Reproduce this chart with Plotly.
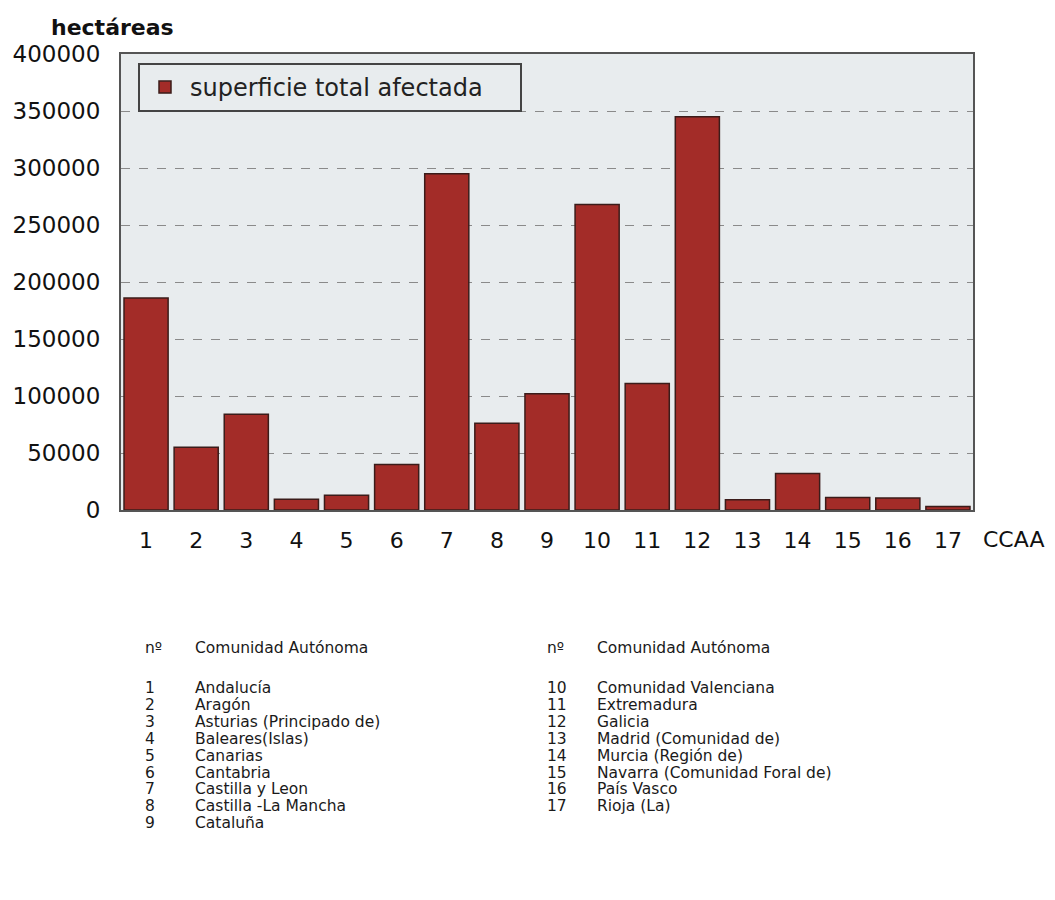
import plotly.graph_objects as go

# ---- data ----
ccaa = [str(i) for i in range(1, 18)]
superficie = [186000, 55000, 84000, 9500, 13000, 40000, 295000, 76000, 102000,
              268000, 111000, 345000, 9000, 32000, 11000, 10500, 3000]
series_name = "superficie total afectada"
y_ticks = [0, 50000, 100000, 150000, 200000, 250000, 300000, 350000, 400000]

table_left_nums = ["1", "2", "3", "4", "5", "6", "7", "8", "9"]
table_left_names = ["Andalucía", "Aragón", "Asturias (Principado de)", "Baleares(Islas)",
                    "Canarias", "Cantabria", "Castilla y Leon", "Castilla -La Mancha", "Cataluña"]
table_right_nums = ["10", "11", "12", "13", "14", "15", "16", "17"]
table_right_names = ["Comunidad Valenciana", "Extremadura", "Galicia", "Madrid (Comunidad de)",
                     "Murcia (Región de)", "Navarra (Comunidad Foral de)", "País Vasco", "Rioja (La)"]
header_num = "nº"
header_name = "Comunidad Autónoma"
y_title = "hectáreas"
x_title = "CCAA"

# ---- layout geometry (pixels) ----
W, H = 1055, 900
PL, PR, PT, PB = 121, 973, 54, 510
FONT = "DejaVu Sans, Liberation Sans, Arial, sans-serif"


def px(xp):
    return (xp - PL) / (PR - PL)


def py(yp):
    return (PB - yp) / (PB - PT)


fig = go.Figure()
fig.add_trace(go.Bar(
    x=ccaa, y=superficie, name=series_name,
    marker=dict(color="#a32c28", line=dict(color="#3b1c1a", width=1.5)),
    showlegend=True,
))

annotations = []
annotations.append(dict(text=y_title, x=px(49), y=py(28), xref="paper", yref="paper",
                        xanchor="left", yanchor="middle", showarrow=False,
                        font=dict(family=FONT, size=22, color="#111111", weight="bold")))
annotations.append(dict(text=x_title, x=px(981), y=py(539), xref="paper", yref="paper",
                        xanchor="left", yanchor="middle", showarrow=False,
                        font=dict(family=FONT, size=22, color="#111111")))

tfont = dict(family=FONT, size=15.5, color="#1a1a1a")
row0, dy = 688, 16.9
for (nx, tx, nums, names) in [(143, 193, table_left_nums, table_left_names),
                              (545, 595, table_right_nums, table_right_names)]:
    annotations.append(dict(text=header_num, x=px(nx), y=py(648), xref="paper", yref="paper",
                            xanchor="left", yanchor="middle", showarrow=False, font=tfont))
    annotations.append(dict(text=header_name, x=px(tx), y=py(648), xref="paper", yref="paper",
                            xanchor="left", yanchor="middle", showarrow=False, font=tfont))
    for i, (n, nm) in enumerate(zip(nums, names)):
        yy = row0 + i * dy
        annotations.append(dict(text=n, x=px(nx), y=py(yy), xref="paper", yref="paper",
                                xanchor="left", yanchor="middle", showarrow=False, font=tfont))
        annotations.append(dict(text=nm, x=px(tx), y=py(yy), xref="paper", yref="paper",
                                xanchor="left", yanchor="middle", showarrow=False, font=tfont))

fig.update_layout(
    width=W, height=H,
    margin=dict(l=PL, r=W - PR, t=PT, b=H - PB, autoexpand=False),
    paper_bgcolor="white",
    plot_bgcolor="#e8ecee",
    bargap=0.12,
    font=dict(family=FONT, color="#111111"),
    legend=dict(x=px(138), y=py(63), xanchor="left", yanchor="top", orientation="h",
                bgcolor="#e8ecee", bordercolor="#444444", borderwidth=2,
                itemwidth=40, entrywidth=325,
                font=dict(family=FONT, size=24, color="#222222")),
    xaxis=dict(type="category", showgrid=False, showline=True, linecolor="#555555",
               linewidth=2, mirror=True, ticks="", ticklabelstandoff=10,
               tickfont=dict(family=FONT, size=22, color="#111111")),
    yaxis=dict(range=[0, 400000], tickvals=y_ticks, tickformat="d",
               showgrid=True, gridcolor="#8a8a8a", griddash="dash", gridwidth=1.2,
               showline=True, linecolor="#555555", linewidth=2, mirror=True,
               ticks="", ticklabelstandoff=14, zeroline=False,
               tickfont=dict(family=FONT, size=23, color="#111111")),
    annotations=annotations,
)

fig.write_html("out.html")
